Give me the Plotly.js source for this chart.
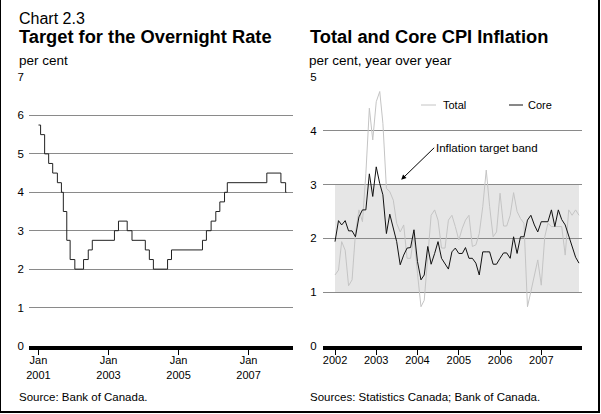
<!DOCTYPE html>
<html>
<head>
<meta charset="utf-8">
<script src="https://cdn.plot.ly/plotly-3.0.1.min.js"></script>
<style>
  html, body { margin: 0; padding: 0; background: #fff; }
  #wrap { position: relative; width: 601px; height: 414px; }
  #chart { width: 601px; height: 414px; }
  #frame { position: absolute; left: 0; top: 0; width: 600px; height: 413px; box-sizing: border-box;
           border-left: 1px solid #000; border-right: 2px solid #000; border-bottom: 2px solid #000;
           pointer-events: none; }
</style>
</head>
<body>
<div id="wrap"><div id="chart"></div><div id="frame"></div></div>
<script>
// ---- Left chart: Target for the overnight rate (change dates) ----
const rateDates = ['2001-01-01','2001-01-23','2001-03-06','2001-04-17','2001-05-29','2001-07-17','2001-08-28',
  '2001-09-17','2001-10-23','2001-11-27','2002-01-15','2002-04-16','2002-06-04','2002-07-16','2003-03-04',
  '2003-04-15','2003-07-15','2003-09-03','2004-01-20','2004-03-02','2004-04-13','2004-09-08','2004-10-19',
  '2005-09-07','2005-10-18','2005-12-06','2006-01-24','2006-03-07','2006-04-25','2006-05-24','2007-07-10',
  '2007-12-04','2008-01-22','2008-01-31'];
const rateValues = [5.75,5.50,5.00,4.75,4.50,4.25,4.00,3.50,2.75,2.25,2.00,2.25,2.50,2.75,3.00,
  3.25,3.00,2.75,2.50,2.25,2.00,2.25,2.50,2.75,3.00,3.25,3.50,3.75,4.00,4.25,4.50,4.25,4.00,4.00];
const leftTickVals = ['2001-01-01','2003-01-01','2005-01-01','2007-01-01'];
const leftTickText = ['Jan<br>2001','Jan<br>2003','Jan<br>2005','Jan<br>2007'];

// ---- Right chart: Total and core CPI inflation, monthly Jan 2002 - Dec 2007 ----
const cpiMonths = [];
for (let y = 2002; y <= 2007; y++) for (let m = 1; m <= 12; m++) cpiMonths.push(y + '-' + String(m).padStart(2,'0') + '-01');
const totalCPI = [
  1.32,1.41,1.94,1.78,1.12,1.23,2.10,2.53,2.31,3.20,4.42,3.83,
  4.54,4.73,4.14,2.93,2.87,2.71,2.28,2.12,2.25,1.63,1.63,2.06,
  1.35,0.73,0.85,1.60,2.43,2.53,2.34,1.82,1.82,2.34,2.43,2.22,
  1.97,2.19,2.34,2.43,1.85,1.88,2.09,2.59,3.27,2.59,2.03,2.12,
  2.84,2.23,2.23,2.43,2.85,2.50,2.37,2.28,0.73,1.01,1.32,1.60,
  1.13,2.03,2.28,2.22,2.22,2.22,2.22,1.69,2.53,2.43,2.53,2.43];
const coreCPI = [
  1.94,2.33,2.25,2.33,2.14,2.14,2.03,2.40,2.53,2.53,3.20,2.78,
  3.33,3.02,2.81,2.09,2.45,2.20,1.94,1.51,1.69,1.82,1.83,2.16,
  1.57,1.23,1.32,1.85,1.52,1.72,1.94,1.63,1.54,1.43,1.75,1.82,
  1.72,1.72,1.83,1.63,1.63,1.54,1.32,1.75,1.75,1.75,1.52,1.52,
  1.63,1.73,1.73,1.63,2.03,1.72,2.03,2.03,2.34,2.43,2.25,2.12,
  2.31,2.31,2.31,2.53,2.22,2.53,2.35,2.25,2.06,1.85,1.65,1.54];
const rightTickVals = ['2002-01-01','2003-01-01','2004-01-01','2005-01-01','2006-01-01','2007-01-01'];
const rightTickText = ['2002','2003','2004','2005','2006','2007'];
const bandLow = 1, bandHigh = 3;

const W = 601, H = 414;
const FONT = '"Liberation Sans", Arial, Helvetica, sans-serif';
const px = v => v / W, py = v => 1 - v / H;

function txt(text, x, y, size, opts) {
  opts = opts || {};
  return { text: text, xref: 'paper', yref: 'paper', x: px(x), y: py(y), showarrow: false,
           xanchor: opts.xanchor || 'left', yanchor: 'middle',
           font: { family: FONT, size: size, color: '#000' } };
}

const traces = [
  { x: rateDates, y: rateValues, type: 'scatter', mode: 'lines', line: { color: '#222', width: 1, shape: 'hv' },
    xaxis: 'x', yaxis: 'y', hoverinfo: 'skip' },
  { x: cpiMonths, y: totalCPI, type: 'scatter', mode: 'lines', line: { color: '#c4c4c4', width: 1 },
    xaxis: 'x2', yaxis: 'y2', hoverinfo: 'skip' },
  { x: cpiMonths, y: coreCPI, type: 'scatter', mode: 'lines', line: { color: '#111', width: 1 },
    xaxis: 'x2', yaxis: 'y2', hoverinfo: 'skip' }
];

const yDomain = [68 / H, 337 / H];
const axisFont = { family: FONT, size: 11.5, color: '#000' };

const layout = {
  width: W, height: H, margin: { l: 0, r: 0, t: 0, b: 0 },
  paper_bgcolor: '#fff', plot_bgcolor: '#fff', showlegend: false,
  font: { family: FONT, color: '#000' },
  xaxis: { domain: [29 / W, 293 / W], type: 'date', range: ['2000-09-24', '2008-04-08'],
           tickvals: leftTickVals, ticktext: leftTickText, tickfont: { family: FONT, size: 11, color: '#000' },
           showgrid: false, zeroline: false, showline: true, linecolor: '#000', linewidth: 4,
           ticks: 'outside', ticklen: 5, tickwidth: 1, tickcolor: '#000', ticklabelstandoff: -4, fixedrange: true },
  yaxis: { domain: yDomain, range: [0, 7], tickvals: [0,1,2,3,4,5,6,7], tickfont: axisFont,
           showgrid: true, gridcolor: '#8a8a8a', gridwidth: 1, zeroline: false, showline: false,
           ticks: '', ticklabelstandoff: 4, fixedrange: true },
  xaxis2: { domain: [322.7 / W, 581.7 / W], type: 'date', range: ['2001-09-14', '2007-12-25'],
            tickvals: rightTickVals, ticktext: rightTickText, tickfont: { family: FONT, size: 11, color: '#000' },
            showgrid: false, zeroline: false, showline: true, linecolor: '#000', linewidth: 4,
            ticks: 'outside', ticklen: 5, tickwidth: 1, tickcolor: '#000', ticklabelstandoff: -4,
            anchor: 'y2', fixedrange: true },
  yaxis2: { domain: yDomain, range: [0, 5], tickvals: [0,1,2,3,4,5], tickfont: axisFont, anchor: 'x2',
            showgrid: true, gridcolor: '#8a8a8a', gridwidth: 1, zeroline: false, showline: false,
            ticks: '', ticklabelstandoff: 5, fixedrange: true },
  shapes: [
    { type: 'rect', xref: 'x2', yref: 'y2', x0: cpiMonths[0], x1: cpiMonths[cpiMonths.length - 1],
      y0: bandLow, y1: bandHigh, fillcolor: '#e6e6e6', line: { width: 0 }, layer: 'below' },
    // legend samples
    { type: 'line', xref: 'paper', yref: 'paper', x0: px(421), x1: px(436), y0: py(105), y1: py(105),
      line: { color: '#c4c4c4', width: 1 } },
    { type: 'line', xref: 'paper', yref: 'paper', x0: px(509), x1: px(523), y0: py(105), y1: py(105),
      line: { color: '#111', width: 1 } }
  ],
  annotations: [
    txt('Chart 2.3', 17, 18.5, 16),
    txt('<b>Target for the Overnight Rate</b>', 17, 37, 18.3),
    txt('<b>Total and Core CPI Inflation</b>', 308, 37, 18.3),
    txt('per cent', 17, 60.5, 13.5),
    txt('per cent, year over year', 307, 60.5, 13.5),
    txt('Total', 440.5, 104.5, 11),
    txt('Core', 526, 104.5, 11),
    txt('Source: Bank of Canada.', 17, 397, 11.5),
    txt('Sources: Statistics Canada; Bank of Canada.', 307.5, 397, 11.5),
    { text: 'Inflation target band', xref: 'x2', yref: 'y2', x: '2003-08-10', y: 3.09,
      showarrow: true, arrowhead: 2, arrowsize: 1, arrowwidth: 1, arrowcolor: '#000',
      ax: 33, ay: -32, xanchor: 'left', yanchor: 'middle',
      font: { family: FONT, size: 11.5, color: '#000' } }
  ]
};

Plotly.newPlot('chart', traces, layout, { staticPlot: true, displayModeBar: false });
</script>
</body>
</html>
